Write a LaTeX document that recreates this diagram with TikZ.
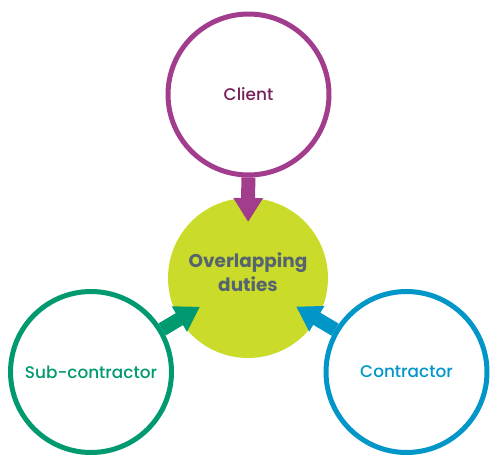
\documentclass[tikz,border=0pt]{standalone}
\usepackage{fontspec}
\setmainfont{Poppins}
\newfontfamily\partyfont{Poppins Medium}
\usepackage{xcolor}
\usetikzlibrary{arrows.meta, positioning}
\definecolor{clientpurple}{RGB}{162,60,140}
\definecolor{clienttext}{RGB}{120,30,90}
\definecolor{dutylime}{RGB}{202,219,42}
\definecolor{dutytext}{RGB}{85,100,110}
\definecolor{subgreen}{RGB}{0,153,112}
\definecolor{conblue}{RGB}{0,150,200}

\begin{document}
\begin{tikzpicture}[
    x=0.02cm, y=-0.02cm,
    party/.style={circle, draw, line width=0.1cm, fill=white,
                  minimum size=3.22cm, inner sep=0pt,
                  align=center, font=\partyfont\fontsize{9.6}{12}\selectfont},
    duty/.style={circle, fill=dutylime, minimum size=3.2cm, inner sep=0pt,
                 align=center, text=dutytext, text depth=0.24cm,
                 font=\bfseries\fontsize{10.5}{13.6}\selectfont},
    arr/.style={-{Triangle[length=0.48cm, width=0.56cm]}, line width=0.28cm,
                shorten >=1.12cm}
  ]
    \useasboundingbox (0,0) rectangle (500,467);

    \node[party, draw=clientpurple, text=clienttext] (client) at (248.5,94.5) {Client};
    \node[duty] (duties) at (248,278) {Overlapping\\duties};
    \node[party, draw=subgreen, text=subgreen] (sub) at (91,372) {Sub-contractor};
    \node[party, draw=conblue, text=conblue] (con) at (406.5,372) {Contractor};

    \draw[arr, clientpurple] (client) -- (duties.center);
    \draw[arr, subgreen] (sub) -- (duties.center);
    \draw[arr, conblue] (con) -- (duties.center);
  \end{tikzpicture}
\end{document}
